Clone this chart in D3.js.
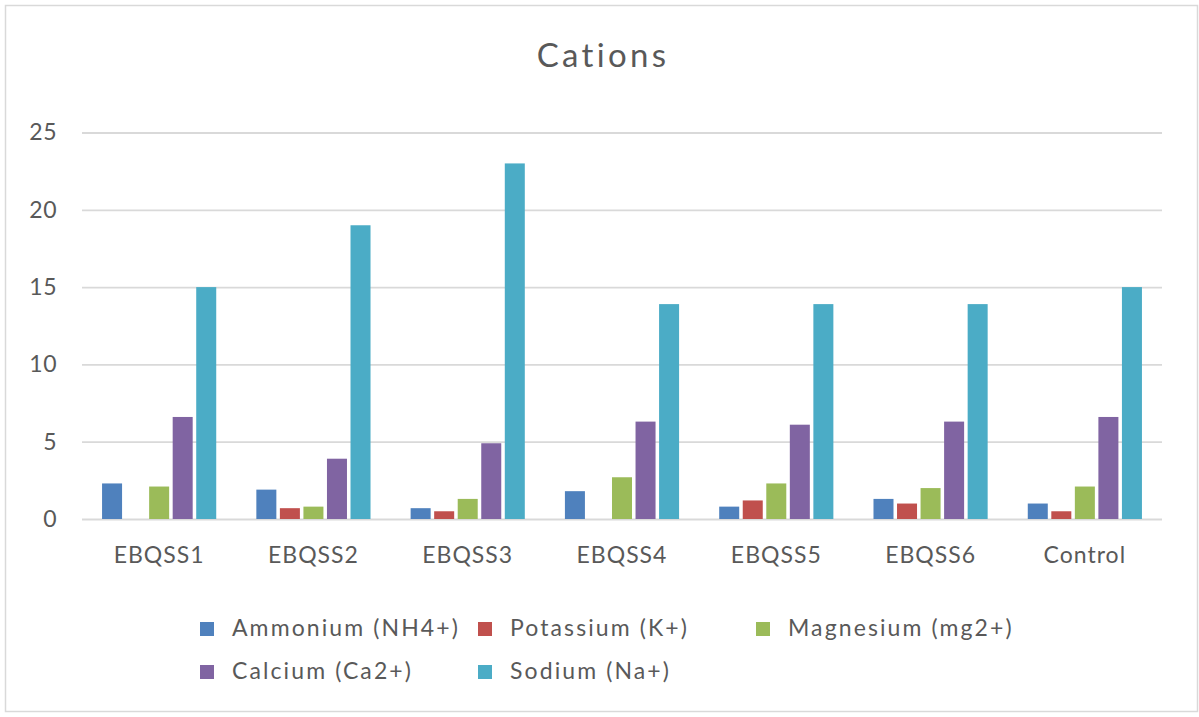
<!DOCTYPE html>
<html>
<head>
<meta charset="utf-8">
<script src="https://cdn.jsdelivr.net/npm/d3@7"></script>
<style>
  html, body { margin: 0; padding: 0; background: #ffffff; }
  svg { display: block; }
  text { font-family: Lato, "Open Sans", sans-serif; fill: #595959; }
</style>
</head>
<body>
<svg id="chart" width="1199" height="717"></svg>
<script>
// Sample sites along the x axis
const categories = ["EBQSS1", "EBQSS2", "EBQSS3", "EBQSS4", "EBQSS5", "EBQSS6", "Control"];

// Cation concentrations per site
const ammonium  = [2.3, 1.9, 0.7, 1.8, 0.8, 1.3, 1.0];
const potassium = [0, 0.7, 0.5, 0, 1.2, 1.0, 0.5];
const magnesium = [2.1, 0.8, 1.3, 2.7, 2.3, 2.0, 2.1];
const calcium   = [6.6, 3.9, 4.9, 6.3, 6.1, 6.3, 6.6];
const sodium    = [15.0, 19.0, 23.0, 13.9, 13.9, 13.9, 15.0];

const seriesNames = ["Ammonium (NH4+)", "Potassium (K+)", "Magnesium (mg2+)", "Calcium (Ca2+)", "Sodium (Na+)"];
const seriesColors = ["#4F81BD", "#C0504D", "#9BBB59", "#8064A2", "#4BACC6"];
const yTicks = [0, 5, 10, 15, 20, 25];
const chartTitle = "Cations";

const seriesValues = [ammonium, potassium, magnesium, calcium, sodium];
const series = seriesNames.map((name, i) => ({ name, color: seriesColors[i], values: seriesValues[i] }));

const plot = { left: 82, right: 1162, top: 132.5, bottom: 519 };

const svg = d3.select("#chart");

// Chart frame
svg.append("rect")
  .attr("x", 5.5).attr("y", 5.5)
  .attr("width", 1192).attr("height", 706)
  .attr("fill", "#ffffff")
  .attr("stroke", "#d9d9d9")
  .attr("stroke-width", 1.5);

const x0 = d3.scaleBand()
  .domain(categories)
  .range([plot.left, plot.right])
  .paddingInner(0.26)
  .paddingOuter(0.13);

const x1 = d3.scaleBand()
  .domain(seriesNames)
  .range([0, x0.bandwidth()])
  .paddingInner(0.15);

const y = d3.scaleLinear()
  .domain([0, 25])
  .range([plot.bottom, plot.top]);

// Title
svg.append("text")
  .attr("x", 603)
  .attr("y", 67)
  .attr("text-anchor", "middle")
  .style("font-size", "33px")
  .style("letter-spacing", "3.3px")
  .text(chartTitle);

// Horizontal gridlines and value labels
const yAxis = d3.axisLeft(y)
  .tickValues(yTicks)
  .tickSize(-(plot.right - plot.left))
  .tickPadding(25)
  .tickFormat(d3.format("d"));

const yG = svg.append("g")
  .attr("transform", `translate(${plot.left},0)`)
  .call(yAxis);
yG.select(".domain").remove();
yG.selectAll(".tick line")
  .attr("stroke", "#d9d9d9")
  .attr("stroke-width", 1.8);
yG.selectAll(".tick text")
  .style("font-size", "23px")
  .style("letter-spacing", "0.5px")
  .attr("fill", "#595959");

// Category axis labels
const xAxis = d3.axisBottom(x0).tickSize(0).tickPadding(28);
const xG = svg.append("g")
  .attr("transform", `translate(0,${plot.bottom})`)
  .call(xAxis);
xG.select(".domain").remove();
xG.selectAll(".tick text")
  .style("font-size", "23px")
  .style("letter-spacing", "1px")
  .attr("fill", "#595959");

// Clustered bars
const groups = svg.append("g")
  .selectAll("g")
  .data(categories)
  .join("g")
  .attr("transform", d => `translate(${x0(d)},0)`);

groups.selectAll("rect")
  .data((cat, ci) => series.map(s => ({ name: s.name, color: s.color, value: s.values[ci] })))
  .join("rect")
  .filter(d => d.value > 0)
  .attr("x", d => x1(d.name))
  .attr("y", d => y(d.value))
  .attr("width", x1.bandwidth())
  .attr("height", d => y(0) - y(d.value))
  .attr("fill", d => d.color);

// Legend
const legend = svg.append("g");
const legendItems = legend.selectAll("g")
  .data(series)
  .join("g")
  .attr("transform", (d, i) => `translate(${200 + (i % 3) * 278},${622 + Math.floor(i / 3) * 43})`);

legendItems.append("rect")
  .attr("width", 14).attr("height", 14)
  .attr("fill", d => d.color);

legendItems.append("text")
  .attr("x", 32)
  .attr("y", 14)
  .style("font-size", "23px")
  .style("letter-spacing", "2.1px")
  .text(d => d.name);
</script>
</body>
</html>
